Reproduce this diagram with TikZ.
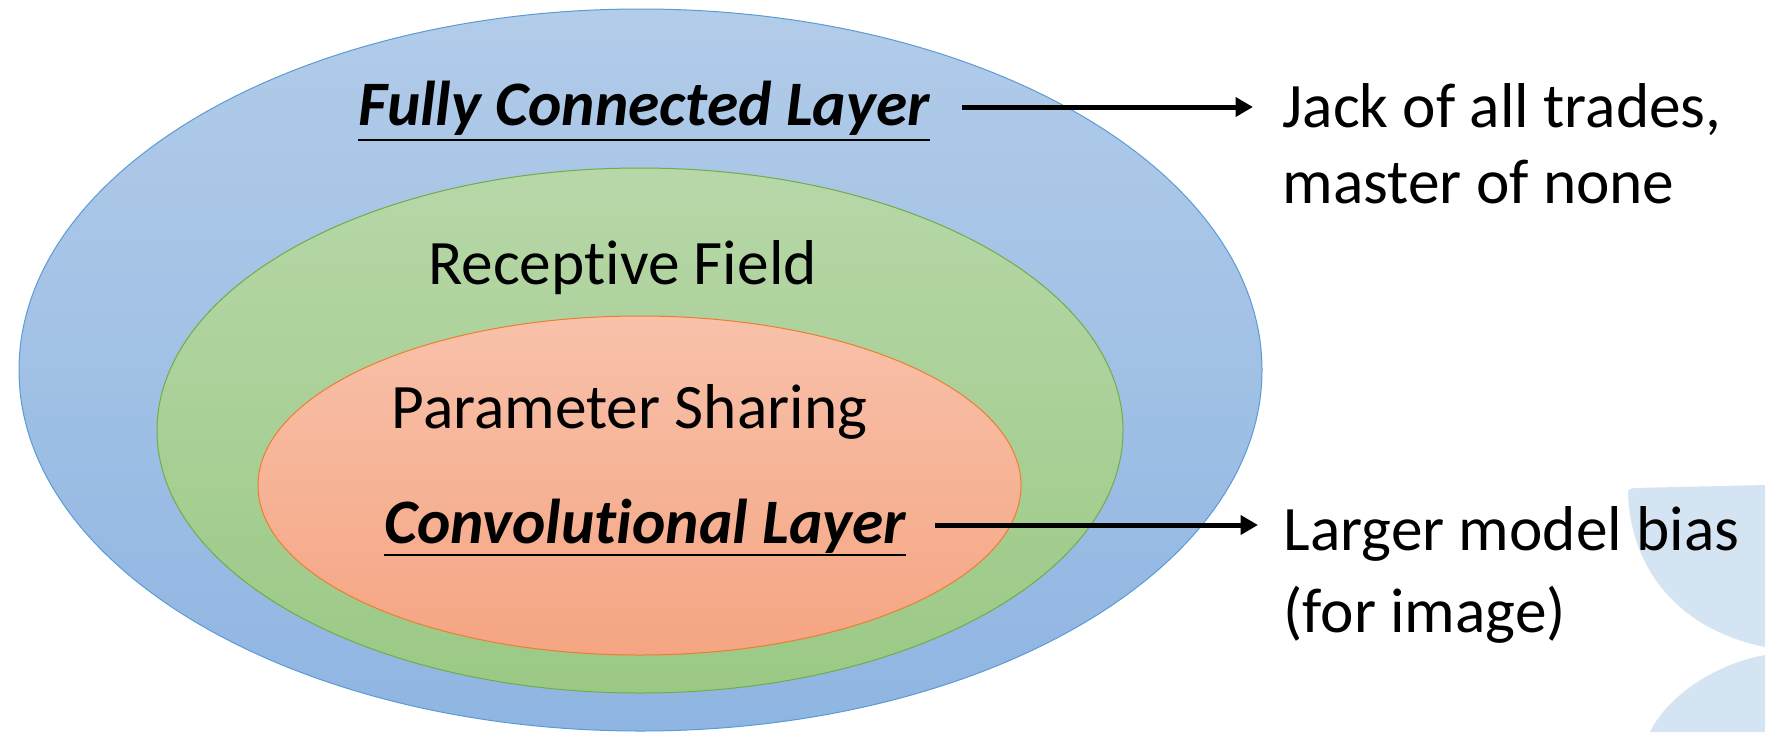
\documentclass[tikz,border=0pt]{standalone}
\usepackage{fontspec}
\setmainfont{Carlito}[RawFeature={-liga;-clig;-calt;-dlig}]
\usetikzlibrary{arrows.meta,calc}

\definecolor{fcline}{RGB}{91,155,213}
\definecolor{fctop}{RGB}{178,204,233}
\definecolor{fcbot}{RGB}{143,181,226}
\definecolor{rfline}{RGB}{112,173,71}
\definecolor{rftop}{RGB}{183,215,168}
\definecolor{rfbot}{RGB}{155,201,133}
\definecolor{cvline}{RGB}{237,125,49}
\definecolor{cvtop}{RGB}{248,193,170}
\definecolor{cvbot}{RGB}{245,165,130}
\definecolor{petal}{RGB}{213,228,242}

\newcommand{\noti}{t\kern0pt i}

\tikzset{every picture/.style={line width=0.75pt}}
\tikzset{
  ring/.style={line width=0.75pt},
  label/.style={inner sep=0pt, font=\fontsize{47.5}{57}\selectfont},
  layer/.style={inner sep=0pt, font=\fontsize{47.5}{57}\selectfont\bfseries\itshape},
  note/.style={inner sep=0pt, align=left},
  pointer/.style={line width=3.75pt, -{Triangle[length=13pt,width=14pt]}},
  rule/.style={line width=1.5pt}
}

\begin{document}
\begin{tikzpicture}[x=0.75pt,y=0.75pt,yscale=-1,xscale=1]
\useasboundingbox (0,0) rectangle (1765,732);

%Shape: background petals
\fill [petal] (1765,485) -- (1634,488) .. controls (1629,489) and (1628,490) .. (1628,492) .. controls (1630,570) and (1680,630) .. (1765,647) -- cycle ;
\fill [petal] (1650,732) .. controls (1665,700) and (1710,665) .. (1765,655) -- (1765,732) -- cycle ;

%Shape: Ellipse
\draw [ring, draw=fcline, top color=fctop, bottom color=fcbot] (640.5,370) ellipse (621.5 and 361) ;
%Shape: Ellipse
\draw [ring, draw=rfline, top color=rftop, bottom color=rfbot] (640,430.5) ellipse (483 and 262.5) ;
%Shape: Ellipse
\draw [ring, draw=cvline, top color=cvtop, bottom color=cvbot] (639.5,485.5) ellipse (381.5 and 169.5) ;

% Text Node
\node (fc) [layer, anchor=base] at (644,125) {Fully Connected Layer};
% Text Node
\node (rf) [label, anchor=base] at (622.5,284) {Recep\noti ve Field};
% Text Node
\node (ps) [label, anchor=base] at (629.5,428) {Parameter Sharing};
% Text Node
\node (cv) [layer, anchor=base] at (645,543) {Convolu\noti onal Layer};
% Text Node
\node (jack) [note, font=\fontsize{47.5}{57}\selectfont, anchor=base west] at (1282,203) {Jack of all trades,\\master of none};
% Text Node
\node (bias) [note, font=\fontsize{47.5}{61.5}\selectfont, anchor=base west] at (1283,632) {Larger model bias\\(for image)};

%Straight Lines
\draw [rule] ($(fc.base west)+(0,15)$) -- ($(fc.base east)+(0,15)$) ;
\draw [rule] ($(cv.base west)+(0,12)$) -- ($(cv.base east)+(0,12)$) ;

\coordinate (fcout) at (962,107);
\coordinate (cvout) at (935,525);
\draw [pointer, shorten >=21.75pt] (fcout) -- (fcout -| jack.west) ;
\draw [pointer, shorten >=18.75pt] (cvout) -- (cvout -| bias.west) ;

\end{tikzpicture}
\end{document}
